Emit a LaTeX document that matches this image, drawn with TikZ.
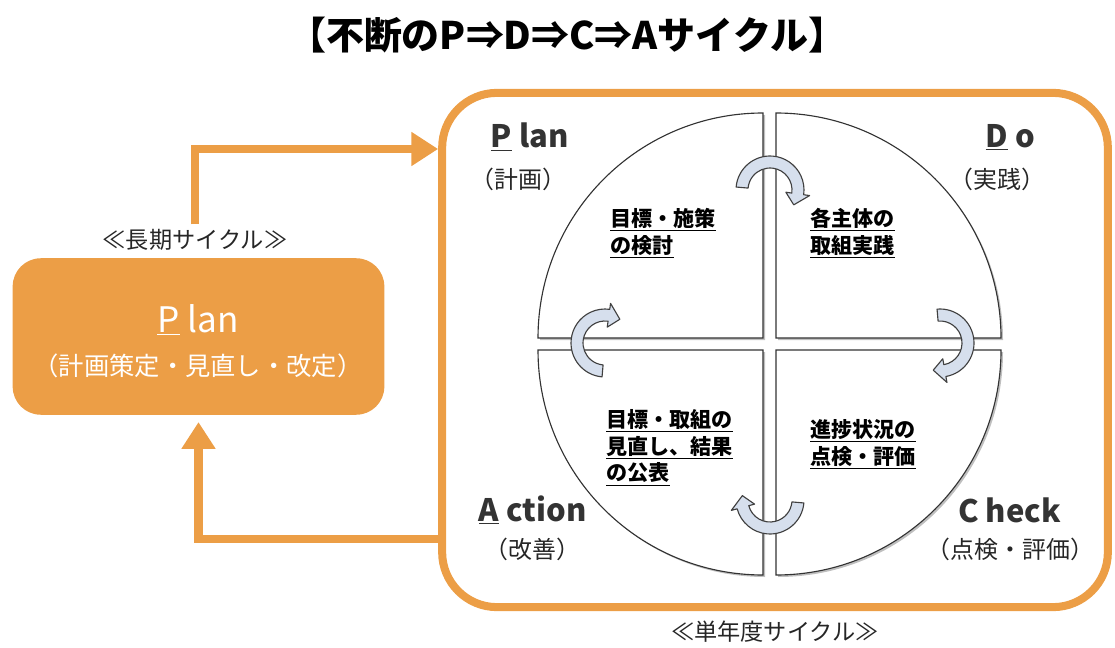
\documentclass[tikz,border=0pt]{standalone}
\usepackage{fontspec}
\setmainfont{Noto Sans CJK JP}
\usetikzlibrary{arrows.meta,calc}
\definecolor{kaki}{RGB}{236,158,70}
\definecolor{yajiru}{RGB}{214,223,237}

% 回転矢印: 中心x, 中心y, 始角, 終角
\newcommand{\kaiten}[4]{%
  \filldraw[cyc] ($(#1,#2)+(#3:34)$) arc[start angle=#3,end angle=#4,radius=34]
    -- ($(#1,#2)+(#4:40)$) -- ($(#1,#2)+(#4-24:28)$) -- ($(#1,#2)+(#4:16)$)
    -- ($(#1,#2)+(#4:22)$) arc[start angle=#4,end angle=#3,radius=22] -- cycle;}

\begin{document}
\begin{tikzpicture}[x=0.025cm,y=0.025cm,
    title/.style={font=\fontsize{27}{31}\selectfont\bfseries},
    phase/.style={font=\fontsize{22}{26}\selectfont\bfseries,text=black!80},
    phasesub/.style={font=\fontsize{17}{20}\selectfont,text=black!85},
    inlbl/.style={font=\fontsize{15}{19}\selectfont\bfseries,align=left,anchor=north west,inner sep=0pt},
    cyclbl/.style={font=\fontsize{16.5}{20}\selectfont,text=black!85},
    yaji/.style={draw=kaki,line width=5.7pt,-{Triangle[length=19pt,width=23pt]}},
    cyc/.style={fill=yajiru,draw=black!75,line width=0.8pt,line join=round},
    quad/.style={fill=white,draw=black!80,line width=0.8pt}]
  \useasboundingbox (0,0) rectangle (1115,-648);

  \node[title] (title) at (567,-35) {【不断のP⇒D⇒C⇒Aサイクル】};

  % 単年度サイクル
  \node[draw=kaki,line width=5.7pt,rounded corners=39pt,minimum width=473.4pt,
        minimum height=365.7pt,inner sep=0pt] (frame) at (775,-350) {};
  \foreach \qx/\qy/\a in {763/-338/90, 776/-338/0, 763/-350/180, 776/-350/270} {
    \fill[black!25] (\qx+2,\qy-2) -- ++(\a:225) arc[start angle=\a,end angle=\a+90,radius=225] -- cycle;
    \filldraw[quad] (\qx,\qy) -- ++(\a:225) arc[start angle=\a,end angle=\a+90,radius=225] -- cycle;
  }
  \kaiten{770}{-190}{175}{-8}
  \kaiten{940}{-343}{95}{-80}
  \kaiten{770}{-500}{-5}{-165}
  \kaiten{605}{-343}{265}{82}

  \node[phase,anchor=west] (plan) at (486,-137) {\underline{P} lan};
  \node[phasesub,anchor=west] (plansub) at (466,-179) {（計画）};
  \node[phase,anchor=east] (do) at (1040,-137) {\underline{D} o};
  \node[phasesub,anchor=east] (dosub) at (1050,-179) {（実践）};
  \node[phase,anchor=west] (act) at (474,-510) {\underline{A} ction};
  \node[phasesub,anchor=west] (actsub) at (480,-549) {（改善）};
  \node[phase,anchor=east] (chk) at (1066,-510) {C heck};
  \node[phasesub,anchor=east] (chksub) at (1099,-549) {（点検・評価）};

  \node[inlbl] (planin) at (610,-208) {\underline{目標・施策}\\\underline{の検討}};
  \node[inlbl] (doin) at (810,-208) {\underline{各主体の}\\\underline{取組実践}};
  \node[inlbl] (actin) at (606,-409) {\underline{目標・取組の}\\\underline{見直し、結果}\\\underline{の公表}};
  \node[inlbl] (chkin) at (810,-419) {\underline{進捗状況の}\\\underline{点検・評価}};

  \node[cyclbl] (shortlbl) at (775,-632) {≪単年度サイクル≫};

  % 長期サイクル
  \node[fill=kaki,rounded corners=20pt,minimum width=264.3pt,minimum height=111.3pt,
        inner sep=0pt] (planbox) at (198.5,-336.5) {};
  \node[text=white,font=\fontsize{25}{30}\selectfont] (bigplan) at (198,-320) {\underline{P} lan};
  \node[text=white,font=\fontsize{18}{22}\selectfont] (bigsub) at (198,-366) {（計画策定・見直し・改定）};
  \node[cyclbl] (longlbl) at (195,-240) {≪長期サイクル≫};

  \coordinate (ue) at (0,-149);
  \coordinate (shita) at (0,-539);
  \draw[yaji] (longlbl.north) |- (frame.west |- ue);
  \draw[yaji,shorten >=5pt] (frame.west |- shita) -| (planbox.south);
\end{tikzpicture}
\end{document}
